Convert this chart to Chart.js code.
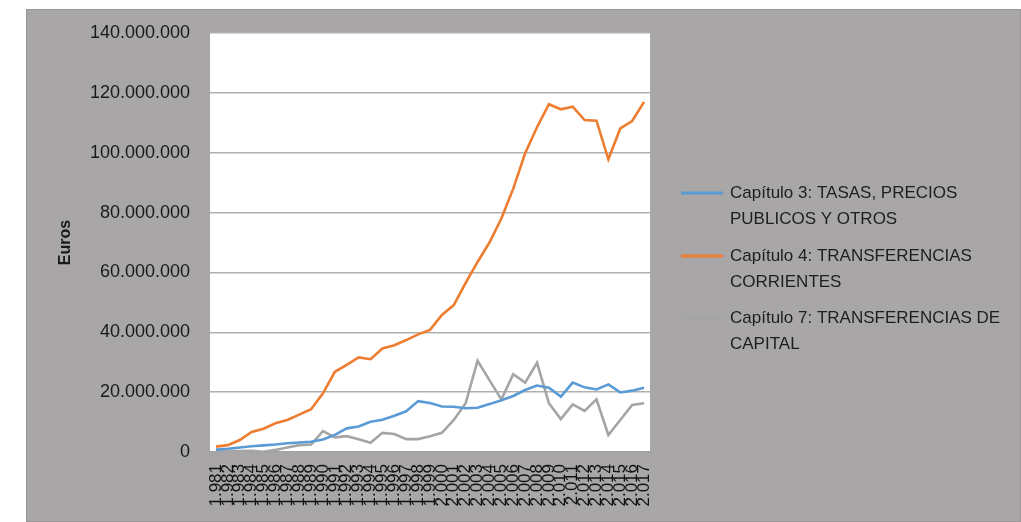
<!DOCTYPE html>
<html>
<head>
<meta charset="utf-8">
<script src="https://cdn.jsdelivr.net/npm/chart.js@4"></script>
<style>
  html, body { margin: 0; padding: 0; background: #fff; }
  #wrap { width: 1021px; height: 522px; position: relative; }
</style>
</head>
<body>
<div id="wrap"><canvas id="chart" width="1021" height="522"></canvas></div>
<script>
// años (categorías del eje X)
const years = ['1.981','1.982','1.983','1.984','1.985','1.986','1.987','1.988','1.989','1.990',
  '1.991','1.992','1.993','1.994','1.995','1.996','1.997','1.998','1.999','2.000',
  '2.001','2.002','2.003','2.004','2.005','2.006','2.007','2.008','2.009','2.010',
  '2.011','2.012','2.013','2.014','2.015','2.016','2.017'];

// valores en millones de euros
const cap3 = [0.8, 1.1, 1.5, 1.9, 2.2, 2.5, 2.9, 3.2, 3.4, 4.2,
  5.7, 7.9, 8.5, 10.1, 10.8, 12.1, 13.6, 17.0, 16.4, 15.2,
  15.1, 14.6, 14.8, 16.0, 17.3, 18.7, 20.7, 22.2, 21.5, 18.5,
  23.2, 21.6, 20.9, 22.6, 19.9, 20.5, 21.5];
const cap4 = [1.8, 2.3, 4.0, 6.7, 7.8, 9.6, 10.7, 12.5, 14.3, 19.6,
  26.8, 29.1, 31.6, 31.0, 34.6, 35.7, 37.4, 39.3, 40.8, 45.8,
  49.1, 56.5, 63.5, 70.0, 78.0, 88.0, 99.8, 108.5, 116.2, 114.5,
  115.4, 110.9, 110.7, 97.8, 108.1, 110.6, 117.0];
const cap7 = [0.6, 0.4, 0.3, 0.4, 0.1, 0.7, 1.5, 2.3, 2.5, 7.0,
  4.9, 5.3, 4.3, 3.1, 6.4, 6.0, 4.3, 4.3, 5.3, 6.4,
  10.7, 16.3, 30.5, 24.0, 17.5, 26.0, 23.2, 29.8, 16.3, 11.0,
  15.9, 13.7, 17.6, 5.7, 10.7, 15.7, 16.3];

// textos de la leyenda (dos líneas cada una)
const legendLines = [
  ['Capítulo 3: TASAS, PRECIOS', 'PUBLICOS Y OTROS'],
  ['Capítulo 4: TRANSFERENCIAS', 'CORRIENTES'],
  ['Capítulo 7: TRANSFERENCIAS DE', 'CAPITAL']
];

function fmtEuros(v) {
  const n = Math.round(v * 1000000).toString();
  return n.replace(/\B(?=(\d{3})+(?!\d))/g, '.');
}

// fondo gris y área de trazado blanca
const backgroundPlugin = {
  id: 'fondo',
  beforeDraw(chart) {
    const ctx = chart.ctx;
    const a = chart.chartArea;
    ctx.save();
    ctx.fillStyle = '#ffffff';
    ctx.fillRect(0, 0, chart.width, chart.height);
    ctx.fillStyle = '#a9a6a7';
    ctx.fillRect(26, 9, chart.width - 26, chart.height - 9);
    ctx.strokeStyle = '#9a9798';
    ctx.lineWidth = 1;
    ctx.strokeRect(26.5, 9.5, chart.width - 27, chart.height - 10);
    ctx.fillStyle = '#ffffff';
    ctx.fillRect(a.left, a.top, a.right - a.left, a.bottom - a.top);
    ctx.restore();
  }
};

// leyenda a la derecha con texto en dos líneas
const legendPlugin = {
  id: 'leyenda',
  afterDraw(chart) {
    const ctx = chart.ctx;
    ctx.save();
    ctx.font = '17px "Liberation Sans", Arial, sans-serif';
    ctx.fillStyle = '#1e1e1e';
    ctx.textBaseline = 'middle';
    const startY = [193, 256, 318];
    chart.data.datasets.forEach((ds, i) => {
      const y = startY[i];
      ctx.strokeStyle = ds.borderColor;
      ctx.lineWidth = 3;
      ctx.beginPath();
      ctx.moveTo(681, y);
      ctx.lineTo(723, y);
      ctx.stroke();
      legendLines[i].forEach((t, j) => {
        ctx.fillText(t, 730, y + j * 26);
      });
    });
    ctx.restore();
  }
};

const ctx = document.getElementById('chart').getContext('2d');
new Chart(ctx, {
  type: 'line',
  data: {
    labels: years,
    datasets: [
      { label: 'Capítulo 3: TASAS, PRECIOS PUBLICOS Y OTROS', data: cap3, borderColor: '#5b9bd5' },
      { label: 'Capítulo 4: TRANSFERENCIAS CORRIENTES', data: cap4, borderColor: '#ed7d31' },
      { label: 'Capítulo 7: TRANSFERENCIAS DE CAPITAL', data: cap7, borderColor: '#a5a5a5' }
    ]
  },
  options: {
    responsive: false,
    animation: false,
    layout: { padding: { left: 0, top: 33, right: 371, bottom: 0 } },
    elements: {
      line: { borderWidth: 2.6, tension: 0, fill: false },
      point: { radius: 0, hoverRadius: 0 }
    },
    plugins: {
      legend: { display: false },
      tooltip: { enabled: false }
    },
    scales: {
      x: {
        offset: true,
        afterFit(scale) { scale.height = 70; },
        grid: { display: false, drawTicks: false },
        border: { display: true, color: '#a0a0a0', width: 1.5 },
        ticks: {
          autoSkip: false,
          minRotation: 90,
          maxRotation: 90,
          padding: 12,
          color: '#111',
          font: { family: '"Liberation Sans", Arial, sans-serif', size: 17 }
        }
      },
      y: {
        min: 0,
        max: 140,
        afterFit(scale) { scale.width = 210; },
        grid: { color: '#b0b0b0', lineWidth: 1.5, drawTicks: false },
        border: { display: false },
        ticks: {
          stepSize: 20,
          padding: 20,
          color: '#1a1a1a',
          font: { family: '"Liberation Sans", Arial, sans-serif', size: 18 },
          callback: (v) => fmtEuros(v)
        },
        title: {
          display: true,
          text: 'Euros',
          color: '#1a1a1a',
          font: { family: '"Liberation Sans", Arial, sans-serif', size: 16, weight: 'bold' },
          padding: { top: 56, bottom: 0 }
        }
      }
    }
  },
  plugins: [backgroundPlugin, legendPlugin]
});
</script>
</body>
</html>
